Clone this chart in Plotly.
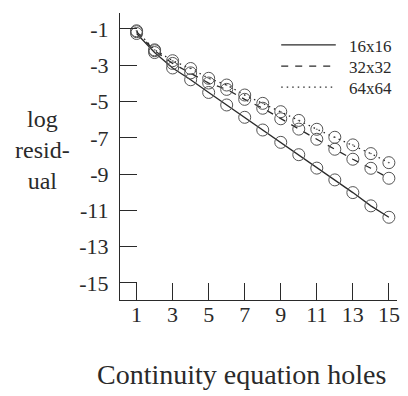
import plotly.graph_objects as go

holes = list(range(1, 16))
res_16 = [-1.25, -2.3, -3.15, -3.8, -4.5, -5.19, -5.87, -6.57, -7.25, -7.93, -8.67, -9.32, -10.02, -10.75, -11.38]
res_32 = [-1.15, -2.2, -2.9, -3.42, -3.98, -4.33, -4.88, -5.37, -5.95, -6.52, -7.08, -7.63, -8.18, -8.68, -9.23]
res_64 = [-1.1, -2.15, -2.75, -3.18, -3.72, -4.09, -4.64, -5.10, -5.56, -6.04, -6.53, -6.97, -7.39, -7.87, -8.37]
series_names = ["16x16", "32x32", "64x64"]
x_ticks = [1, 3, 5, 7, 9, 11, 13, 15]
y_ticks = [-1, -3, -5, -7, -9, -11, -13, -15]
y_ticktext = ["-1", "-3", "-5", "-7", "-9", "-11", "-13", "-15"]

FONT = "Liberation Serif"
INK = "#2a2a2a"
MARK = "#555555"

fig = go.Figure()
dashes = ["solid", "7px,7px", "1.5px,4px"]
symbols = ["circle-open", "circle-open", "circle-open-dot"]
for name, ys, dash, sym in zip(series_names, [res_16, res_32, res_64], dashes, symbols):
    fig.add_trace(go.Scatter(x=holes, y=ys, mode="lines", name=name, showlegend=False,
                             line=dict(color=INK, width=1.3, dash=dash)))
    fig.add_trace(go.Scatter(x=holes, y=ys, mode="markers", showlegend=False,
                             marker=dict(symbol=sym, size=12, color=MARK,
                                         line=dict(width=1, color=MARK))))

axis_common = dict(showgrid=False, zeroline=False, showline=True, linecolor=INK,
                   linewidth=1.2, ticks="inside", ticklen=17, tickwidth=1.2,
                   tickcolor=INK, tickfont=dict(family=FONT, size=22, color=INK))

# manual legend (paper coordinates)
shapes = []
annotations = []
leg_rows = [0.889, 0.815, 0.742]
for name, dash, yy in zip(series_names, dashes, leg_rows):
    shapes.append(dict(type="line", xref="paper", yref="paper", x0=0.582, x1=0.779,
                       y0=yy, y1=yy, line=dict(color=INK, width=1.3, dash=dash)))
    annotations.append(dict(text=name, xref="paper", yref="paper", x=0.818, y=yy - 0.004,
                            xanchor="left", yanchor="middle", showarrow=False,
                            font=dict(family=FONT, size=17, color=INK)))

annotations.append(dict(text="log<br>resid-<br>ual", xref="paper", yref="paper",
                        x=-0.279, y=0.523, xanchor="center", yanchor="middle",
                        showarrow=False, align="center",
                        font=dict(family=FONT, size=24, color=INK)))
annotations.append(dict(text="Continuity equation holes", xref="paper", yref="paper",
                        x=0.439, y=-0.261, xanchor="center", yanchor="middle",
                        showarrow=False, font=dict(family=FONT, size=28, color=INK)))

fig.update_layout(
    width=408, height=396,
    margin=dict(l=120, r=8, t=13, b=96),
    paper_bgcolor="white", plot_bgcolor="white",
    showlegend=False,
    xaxis=dict(range=[0.08, 15.45], tickvals=x_ticks, ticklabelstandoff=-6,
               **axis_common),
    yaxis=dict(range=[-15.94, -0.12], tickvals=y_ticks, ticktext=y_ticktext,
               ticklabelstandoff=6, **axis_common),
    shapes=shapes,
    annotations=annotations,
)

fig.write_html("out.html")
